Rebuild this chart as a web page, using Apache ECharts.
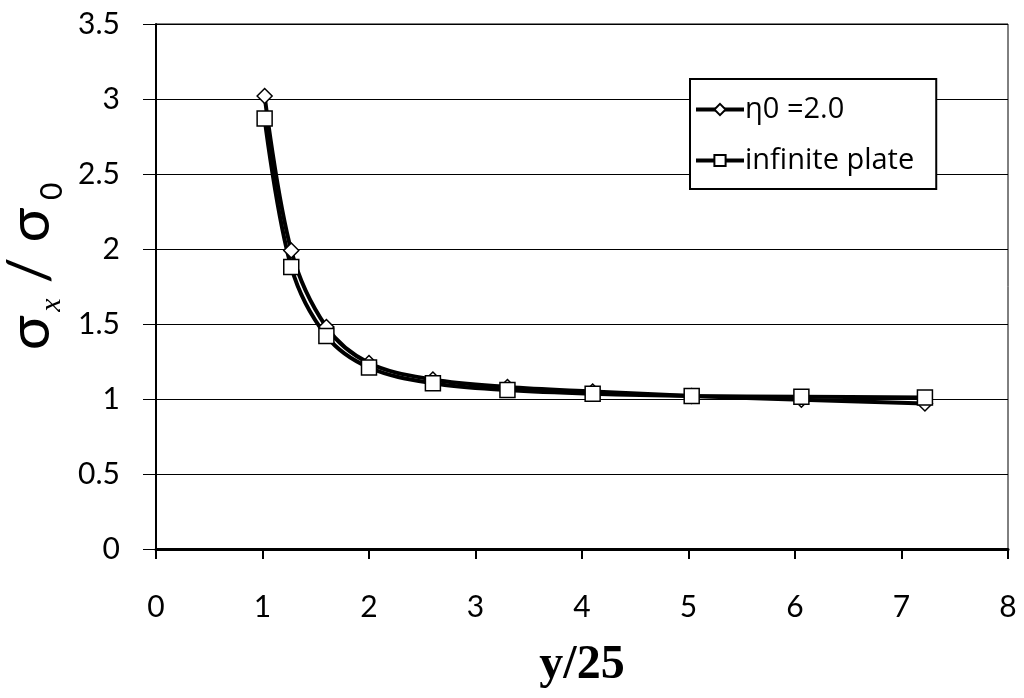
<!DOCTYPE html>
<html>
<head>
<meta charset="utf-8">
<script src="https://cdn.jsdelivr.net/npm/echarts@6/dist/echarts.min.js"></script>
<style>
  html, body { margin: 0; padding: 0; background: #fff; }
  #chart { width: 1024px; height: 698px; }
</style>
</head>
<body>
<div id="chart"></div>
<script>
// 数据 y/25 与 σx/σ0
var xValues = [1.02, 1.27, 1.6, 2.0, 2.6, 3.3, 4.1, 5.03, 6.06, 7.22];
var etaValues = [3.02, 1.99, 1.48, 1.24, 1.13, 1.08, 1.05, 1.02, 0.995, 0.97];
var plateValues = [2.87, 1.88, 1.42, 1.21, 1.105, 1.06, 1.035, 1.02, 1.015, 1.01];
var legendNames = ['η0 =2.0', 'infinite plate'];

function pairs(xs, ys) {
  var out = [];
  for (var i = 0; i < xs.length; i++) {
    out.push([xs[i], ys[i]]);
  }
  return out;
}

var labelFont = 'Lato, "Open Sans", sans-serif';

var myChart = echarts.init(document.getElementById('chart'));
var option = {
  animation: false,
  backgroundColor: '#fff',
  grid: {
    left: 156, right: 16, top: 24, bottom: 149,
    outerBoundsMode: 'none',
    show: true, borderColor: '#000', borderWidth: 1
  },
  legend: {
    data: legendNames,
    orient: 'vertical',
    left: 690, top: 79,
    padding: [16, 22, 14, 4],
    itemGap: 22,
    itemWidth: 48,
    itemHeight: 14,
    borderColor: '#000',
    borderWidth: 2,
    backgroundColor: '#fff',
    lineStyle: { width: 4, color: '#000' },
    textStyle: { color: '#000', fontSize: 29, fontFamily: '"Open Sans", sans-serif', padding: [0, 0, 0, -4] }
  },
  xAxis: {
    type: 'value',
    min: 0, max: 8, interval: 1,
    name: 'y/25',
    nameLocation: 'middle',
    nameGap: 93,
    nameTextStyle: { fontFamily: '"Liberation Serif", serif', fontWeight: 'bold', fontSize: 48, color: '#000' },
    axisLine: { show: true, lineStyle: { color: '#000', width: 3 } },
    axisTick: { show: true, inside: false, length: 10, lineStyle: { color: '#000', width: 2 } },
    axisLabel: { color: '#000', fontSize: 30, fontFamily: labelFont, margin: 43 },
    splitLine: { show: false }
  },
  yAxis: {
    type: 'value',
    min: 0, max: 3.5, interval: 0.5,
    name: '{s0|σ}{sub|x}{s| / σ}{sub0| 0}',
    nameLocation: 'middle',
    nameGap: 96,
    nameRotate: 90,
    nameTextStyle: {
      color: '#000',
      rich: {
        s0: { fontSize: 58, fontFamily: labelFont, color: '#000', verticalAlign: 'middle', padding: [0, 0, 0, 40] },
        s: { fontSize: 58, fontFamily: labelFont, color: '#000', verticalAlign: 'middle' },
        sub: { fontSize: 30, fontFamily: '"Liberation Serif", serif', fontStyle: 'italic', color: '#000', verticalAlign: 'bottom', padding: [0, 0, -8, 4] },
        sub0: { fontSize: 30, fontFamily: labelFont, color: '#000', verticalAlign: 'bottom', padding: [0, 0, -8, 0] }
      }
    },
    axisLine: { show: true, lineStyle: { color: '#000', width: 2 } },
    axisTick: { show: true, inside: false, length: 13, lineStyle: { color: '#000', width: 1 } },
    axisLabel: { color: '#000', fontSize: 30, fontFamily: labelFont, margin: 36 },
    splitLine: { show: true, lineStyle: { color: '#000', width: 1 } }
  },
  series: [
    {
      name: legendNames[0],
      type: 'line',
      smooth: 0.35,
      symbol: 'diamond',
      symbolSize: 15,
      lineStyle: { color: '#000', width: 4 },
      itemStyle: { color: '#fff', borderColor: '#000', borderWidth: 1.5 },
      data: pairs(xValues, etaValues)
    },
    {
      name: legendNames[1],
      type: 'line',
      smooth: 0.35,
      symbol: 'rect',
      symbolSize: 15,
      lineStyle: { color: '#000', width: 4 },
      itemStyle: { color: '#fff', borderColor: '#000', borderWidth: 1.5 },
      data: pairs(xValues, plateValues)
    }
  ]
};
myChart.setOption(option);
</script>
</body>
</html>
